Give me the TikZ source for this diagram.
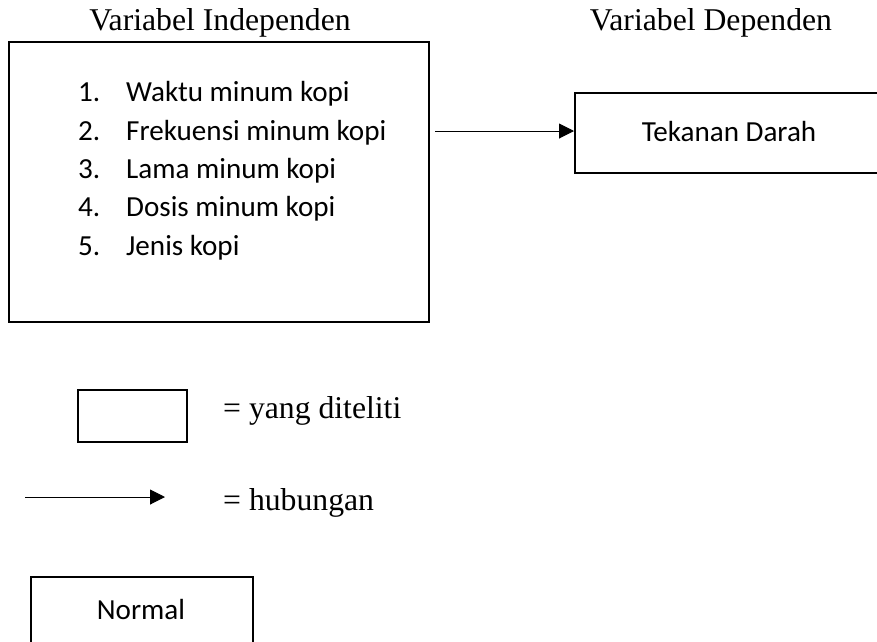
\documentclass[tikz,border=0pt]{standalone}
\usepackage{fontspec}
\setmainfont{Liberation Serif}
\newfontfamily\calfont{Carlito}
\usetikzlibrary{arrows.meta,calc}
\tikzset{
  boxstyle/.style={draw=black, line width=2pt, inner sep=0pt, anchor=north west},
  serif/.style={font=\fontsize{31.7}{38}\selectfont, inner sep=0pt},
  sans/.style={font=\calfont\fontsize{29.1}{35}\selectfont, inner sep=0pt},
  arr/.style={line width=1pt, -{Triangle[length=15pt,width=15pt]}}
}
\begin{document}
\begin{tikzpicture}[x=1pt,y=-1pt]
\useasboundingbox (0,0) rectangle (877,641);
% titles
\node[serif, anchor=base] (t1) at (220,30.7) {Variabel Independen};
\node[serif, anchor=base] (t2) at (711,30.7) {Variabel Dependen};
% independent box
\node[boxstyle, minimum width=420pt, minimum height=280pt] (indep) at (8,41) {};
\foreach \i/\txt [count=\k from 0] in {1/Waktu minum kopi,2/Frekuensi minum kopi,3/Lama minum kopi,4/Dosis minum kopi,5/Jenis kopi}{
  \node[sans, anchor=base west] (n\i) at (78,101.7+38.4*\k) {\i.};
  \node[sans, anchor=base west] (l\i) at (126,101.7+38.4*\k) {\txt};
}
% dependent box
\node[boxstyle, minimum width=310pt, minimum height=80pt] (dep) at (574,91.5) {};
\node[sans, anchor=base] (dtxt) at (729,141.7) {Tekanan Darah};
\draw[arr] ($(dep.west -| indep.east)+(5,-1.5)$) -- ($(dep.west)+(0,-1.5)$);
% legend
\node[boxstyle, minimum width=109pt, minimum height=52pt] (leg1) at (77,389) {};
\node[serif, anchor=base west] (leg1t) at (223,418) {= yang diteliti};
\coordinate (la) at (25,497);
\coordinate (lb) at (165,497);
\draw[arr] (la) -- (lb);
\node[serif, anchor=base west] (leg2t) at (223,510) {= hubungan};
% normal box
\node[boxstyle, minimum width=222pt, minimum height=80pt] (norm) at (30,576) {};
\node[sans, anchor=base] (normt) at (141,619) {Normal};
\end{tikzpicture}
\end{document}
